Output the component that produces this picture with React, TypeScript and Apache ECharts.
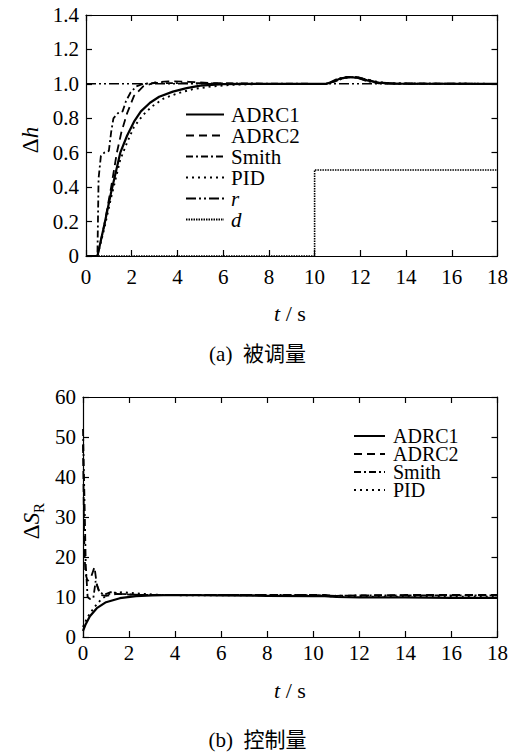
import React, { useEffect, useRef } from "react";
import * as echarts from "echarts";

// ---------- data: upper chart (Δh, controlled variable) ----------
const xTicks = [0, 2, 4, 6, 8, 10, 12, 14, 16, 18];
const hADRC1: number[][] = [
  [0, 0], [0.5, 0], [0.8, 0.18], [1.1, 0.37], [1.5, 0.6], [1.8, 0.7], [2.1, 0.78],
  [2.4, 0.84], [2.8, 0.89], [3.2, 0.925], [3.8, 0.955], [4.4, 0.975], [5, 0.99],
  [6, 0.998], [7, 1.0], [10.5, 1.0], [10.8, 1.012], [11.1, 1.03], [11.5, 1.04],
  [11.9, 1.035], [12.3, 1.02], [12.8, 1.007], [13.5, 1.001], [18, 1.0],
];
const hADRC2: number[][] = [
  [0, 0], [0.5, 0], [0.8, 0.18], [1.1, 0.4], [1.35, 0.6], [1.55, 0.72], [1.8, 0.83],
  [2.1, 0.93], [2.5, 0.985], [3.0, 1.008], [3.6, 1.015], [4.5, 1.012], [5.5, 1.005],
  [7, 1.0], [10.5, 1.0], [10.9, 1.015], [11.3, 1.035], [11.8, 1.04], [12.2, 1.03],
  [12.6, 1.012], [13.2, 1.002], [18, 1.0],
];
const hSmith: number[][] = [
  [0, 0], [0.5, 0], [0.55, 0.45], [0.65, 0.58], [0.8, 0.6], [1.0, 0.61], [1.1, 0.72],
  [1.2, 0.8], [1.4, 0.83], [1.6, 0.84], [1.75, 0.9], [1.95, 0.95], [2.2, 0.985],
  [2.5, 1.0], [3.0, 1.005], [10.5, 1.0], [10.7, 1.01], [11.0, 1.03], [11.4, 1.04],
  [11.9, 1.035], [12.3, 1.015], [12.8, 1.003], [18, 1.0],
];
const hPID: number[][] = [
  [0, 0], [0.5, 0], [0.8, 0.16], [1.1, 0.34], [1.5, 0.56], [1.8, 0.66], [2.1, 0.75],
  [2.5, 0.82], [2.9, 0.87], [3.4, 0.915], [4, 0.945], [4.7, 0.97], [5.5, 0.985],
  [6.5, 0.995], [8, 1.0], [10.5, 1.0], [10.9, 1.015], [11.3, 1.035], [11.8, 1.04],
  [12.3, 1.025], [12.8, 1.01], [13.5, 1.002], [18, 1.0],
];
const hRef: number[][] = [[0, 1], [18, 1]];
const hDist: number[][] = [[0, 0], [10, 0], [10, 0.5], [18, 0.5]];

// ---------- data: lower chart (ΔS_R, control variable) ----------
const uADRC1: number[][] = [
  [0, 1.5], [0.1, 3], [0.3, 5.2], [0.6, 7.2], [1.0, 8.7], [1.6, 9.7], [2.3, 10.2],
  [3, 10.4], [4, 10.5], [6, 10.4], [8, 10.3], [10, 10.2], [10.5, 10.2], [11, 10.0],
  [12, 9.9], [14, 9.9], [16, 9.8], [18, 9.8],
];
const uADRC2: number[][] = [
  [0, 48], [0.05, 25], [0.1, 16], [0.2, 14], [0.35, 15], [0.5, 17.5], [0.6, 13],
  [0.75, 10.5], [1.0, 10.3], [1.5, 10.8], [2, 10.6], [3, 10.5], [5, 10.5], [10, 10.5],
  [10.5, 10.5], [11, 10.3], [12, 10.4], [14, 10.5], [18, 10.5],
];
const uSmith: number[][] = [
  [0, 52], [0.08, 30], [0.12, 18], [0.2, 10], [0.3, 9.5], [0.45, 9.8], [0.55, 14],
  [0.7, 11.5], [0.9, 10.5], [1.2, 11.2], [1.6, 10.8], [2.5, 10.5], [5, 10.5], [10, 10.5],
  [11, 10.3], [12, 10.4], [18, 10.4],
];
const uPID: number[][] = [
  [0, 2.5], [0.2, 5], [0.5, 7.5], [0.8, 9.5], [1.2, 11], [1.7, 11.2], [2.5, 10.8],
  [3.5, 10.5], [5, 10.4], [10, 10.4], [11, 10.1], [12, 10.1], [18, 10.1],
];

const topLegend = ["ADRC1", "ADRC2", "Smith", "PID", "r", "d"];
const bottomLegend = ["ADRC1", "ADRC2", "Smith", "PID"];
const captions = ["(a)\u00a0\u00a0被调量", "(b)\u00a0\u00a0控制量"];

const SERIF = "Liberation Serif";
const FS = 21;

const styles: Record<string, any> = {
  ADRC1: { type: "solid", width: 2.2 },
  ADRC2: { type: [8, 5], width: 1.8 },
  Smith: { type: [7, 3, 2, 3], width: 1.8 },
  PID: { type: [2, 4], width: 1.9 },
  r: { type: [10, 3, 2, 3, 2, 3], width: 1.5 },
  d: { type: [1.5, 1], width: 1.6 },
};

function line(name: string, data: number[][], grid: number) {
  return {
    type: "line",
    name,
    data,
    xAxisIndex: grid * 2,
    yAxisIndex: grid * 2,
    symbol: "none",
    showSymbol: false,
    lineStyle: { color: "#000", ...styles[name] },
    itemStyle: { color: "#000" },
    z: name === "ADRC1" ? 5 : 3,
  };
}

function xAxis(gridIndex: number, position: string, label: boolean, margin: number) {
  return {
    type: "value",
    gridIndex,
    position,
    min: 0,
    max: 18,
    interval: 2,
    axisLine: { show: true, onZero: false, lineStyle: { color: "#000", width: 1.2 } },
    axisTick: { show: true, inside: true, length: 6, lineStyle: { color: "#000", width: 1.2 } },
    splitLine: { show: false },
    axisLabel: {
      show: label,
      color: "#000",
      fontFamily: SERIF,
      fontSize: FS,
      margin,
      formatter: (v: number) => (xTicks.includes(v) ? String(v) : ""),
    },
  };
}

function yAxis(gridIndex: number, position: string, label: boolean, max: number, interval: number, fmt: (v: number) => string) {
  return {
    type: "value",
    gridIndex,
    position,
    min: 0,
    max,
    interval,
    axisLine: { show: true, onZero: false, lineStyle: { color: "#000", width: 1.2 } },
    axisTick: { show: true, inside: true, length: 6, lineStyle: { color: "#000", width: 1.2 } },
    splitLine: { show: false },
    axisLabel: { show: label, color: "#000", fontFamily: SERIF, fontSize: FS, margin: 7, formatter: fmt },
  };
}

const legendRich = {
  n: { fontFamily: SERIF, fontSize: FS, color: "#000", padding: [0, 0, 0, 2] },
  i: { fontFamily: SERIF, fontSize: FS, color: "#000", fontStyle: "italic", padding: [0, 0, 0, 2] },
  m: { fontFamily: SERIF, fontSize: FS - 1, color: "#000", padding: [0, 0, 0, 3] },
};

export default function App() {
  const ref = useRef<HTMLDivElement>(null);
  useEffect(() => {
    if (!ref.current) return;
    const chart = echarts.init(ref.current, null, { renderer: "svg" });
    const option: any = {
      animation: false,
      textStyle: { fontFamily: SERIF },
      grid: [
        { left: 86, top: 15, width: 415, height: 241 },
        { left: 83, top: 397, width: 415, height: 240 },
      ],
      xAxis: [
        xAxis(0, "bottom", true, 10),
        xAxis(0, "top", false, 10),
        xAxis(1, "bottom", true, 5),
        xAxis(1, "top", false, 5),
      ],
      yAxis: [
        yAxis(0, "left", true, 1.4, 0.2, (v: number) => (v === 0 ? "0" : v.toFixed(1))),
        yAxis(0, "right", false, 1.4, 0.2, (v: number) => String(v)),
        yAxis(1, "left", true, 60, 10, (v: number) => String(v)),
        yAxis(1, "right", false, 60, 10, (v: number) => String(v)),
      ],
      legend: [
        {
          data: topLegend,
          orient: "vertical",
          left: 180,
          top: 99,
          itemWidth: 38,
          itemHeight: 14,
          itemGap: 0,
          selectedMode: false,
          itemStyle: { opacity: 0, borderWidth: 0 },
          textStyle: { fontFamily: SERIF, fontSize: FS, color: "#000", rich: legendRich },
          formatter: (n: string) => (n === "r" || n === "d" ? `{i|${n}}` : `{n|${n}}`),
        },
        {
          data: bottomLegend,
          orient: "vertical",
          left: 348,
          top: 421,
          itemWidth: 31,
          itemHeight: 12,
          itemGap: -2,
          selectedMode: false,
          itemStyle: { opacity: 0, borderWidth: 0 },
          textStyle: { fontFamily: SERIF, fontSize: FS - 1, color: "#000", rich: legendRich },
          formatter: (n: string) => `{m|${n}}`,
        },
      ],
      series: [
        line("r", hRef, 0),
        line("d", hDist, 0),
        line("PID", hPID, 0),
        line("Smith", hSmith, 0),
        line("ADRC2", hADRC2, 0),
        line("ADRC1", hADRC1, 0),
        line("PID", uPID, 1),
        line("Smith", uSmith, 1),
        line("ADRC2", uADRC2, 1),
        line("ADRC1", uADRC1, 1),
      ],
      graphic: [
        {
          type: "text",
          x: 30,
          y: 140,
          rotation: Math.PI / 2,
          style: {
            text: "{a|Δ}{b|h}",
            align: "center",
            verticalAlign: "middle",
            rich: {
              a: { fontFamily: SERIF, fontSize: 23, fill: "#000" },
              b: { fontFamily: SERIF, fontSize: 23, fontStyle: "italic", fill: "#000" },
            },
          },
        },
        {
          type: "text",
          x: 290,
          y: 313,
          style: {
            text: "{b|t}{a| / s}",
            fill: "#000",
            align: "center",
            verticalAlign: "middle",
            rich: {
              a: { fontFamily: SERIF, fontSize: FS + 1, fill: "#000" },
              b: { fontFamily: SERIF, fontSize: FS + 1, fontStyle: "italic", fill: "#000" },
            },
          },
        },
        {
          type: "text",
          x: 31,
          y: 521,
          rotation: Math.PI / 2,
          style: {
            text: "{a|Δ}{b|S}{c|R}",
            align: "center",
            verticalAlign: "middle",
            rich: {
              a: { fontFamily: SERIF, fontSize: 23, fill: "#000", lineHeight: 30, verticalAlign: "middle" },
              b: { fontFamily: SERIF, fontSize: 23, fontStyle: "italic", fill: "#000", lineHeight: 30, verticalAlign: "middle" },
              c: { fontFamily: SERIF, fontSize: 15, fill: "#000", verticalAlign: "bottom", lineHeight: 15 },
            },
          },
        },
        {
          type: "text",
          x: 290,
          y: 690,
          style: {
            text: "{b|t}{a| / s}",
            fill: "#000",
            align: "center",
            verticalAlign: "middle",
            rich: {
              a: { fontFamily: SERIF, fontSize: FS + 1, fill: "#000" },
              b: { fontFamily: SERIF, fontSize: FS + 1, fontStyle: "italic", fill: "#000" },
            },
          },
        },
      ],
    };
    chart.setOption(option);
    return () => chart.dispose();
  }, []);
  const capStyle: React.CSSProperties = {
    position: "absolute",
    left: 2,
    width: 511,
    textAlign: "center",
    fontFamily: "'Liberation Serif', 'Noto Sans CJK SC', serif",
    fontSize: FS,
    lineHeight: "24px",
    color: "#000",
  };
  return (
    <div style={{ position: "absolute", left: 0, top: 0, width: 511, height: 753, background: "#fff" }}>
      <div ref={ref} style={{ position: "absolute", left: 0, top: 0, width: 511, height: 753 }} />
      <div style={{ ...capStyle, top: 342 }}>{captions[0]}</div>
      <div style={{ ...capStyle, top: 728 }}>{captions[1]}</div>
    </div>
  );
}
